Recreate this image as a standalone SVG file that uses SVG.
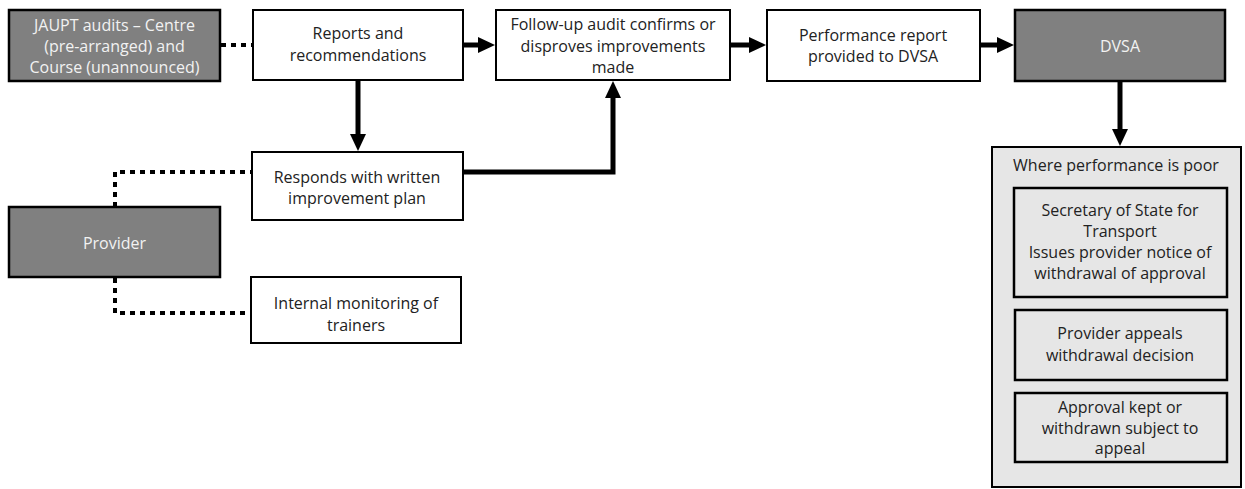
<svg xmlns="http://www.w3.org/2000/svg" width="1245" height="489" viewBox="0 0 1245 489">
<style>
.box{fill:#fff;stroke:#000;stroke-width:2}
.dark{fill:#808080;stroke:#000;stroke-width:2.5}
.grey{fill:#e6e6e6;stroke:#000;stroke-width:2}
.inner{fill:#e6e6e6;stroke:#000;stroke-width:2.5}
text{font-family:"Open Sans","Noto Sans",sans-serif;font-size:16px;text-anchor:middle;fill:#222}
.wt{fill:#f2f2f2}
.solid{fill:none;stroke:#000;stroke-width:5}
.dot{fill:none;stroke:#000;stroke-width:4;stroke-dasharray:5 5}
</style>
<defs>
<marker id="ah" markerUnits="userSpaceOnUse" markerWidth="18" markerHeight="18" refX="0" refY="9" orient="auto">
<path d="M0,1 L17,9 L0,17 Z" fill="#000"/>
</marker>
</defs>
<g id="connectors">
<path class="dot" d="M221,45 H252"/>
<path class="solid" d="M463,45 H478" marker-end="url(#ah)"/>
<path class="solid" d="M730,45 H749" marker-end="url(#ah)"/>
<path class="solid" d="M980,45 H997" marker-end="url(#ah)"/>
<path class="solid" d="M358,81 V134" marker-end="url(#ah)"/>
<path class="solid" d="M463,172 H613 V98" marker-end="url(#ah)"/>
<path class="solid" d="M1120,82 V129" marker-end="url(#ah)"/>
<path class="dot" d="M115,207 V172 H252"/>
<path class="dot" d="M115,278 V313 H251"/>
</g>
<g id="jaupt">
<rect class="dark" x="9" y="10" width="211" height="71"/>
<text class="wt" x="114.5" y="31">JAUPT audits – Centre</text>
<text class="wt" x="114.5" y="52">(pre-arranged) and</text>
<text class="wt" x="114.5" y="73">Course (unannounced)</text>
</g>
<g id="reports">
<rect class="box" x="253" y="10" width="210" height="70"/>
<text x="358" y="39">Reports and</text>
<text x="358" y="61">recommendations</text>
</g>
<g id="followup">
<rect class="box" x="496" y="10" width="234" height="70"/>
<text x="613" y="30">Follow-up audit confirms or</text>
<text x="613" y="52">disproves improvements</text>
<text x="613" y="73">made</text>
</g>
<g id="performance">
<rect class="box" x="767" y="10" width="213" height="71"/>
<text x="873" y="41">Performance report</text>
<text x="873" y="62">provided to DVSA</text>
</g>
<g id="dvsa">
<rect class="dark" x="1015" y="10" width="210" height="71"/>
<text class="wt" x="1120" y="52">DVSA</text>
</g>
<g id="responds">
<rect class="box" x="252" y="152" width="211" height="68"/>
<text x="357" y="183">Responds with written</text>
<text x="357" y="204">improvement plan</text>
</g>
<g id="provider">
<rect class="dark" x="9" y="207" width="211" height="70"/>
<text class="wt" x="114.5" y="249">Provider</text>
</g>
<g id="internal">
<rect class="box" x="251" y="277" width="210" height="66"/>
<text x="356" y="309">Internal monitoring of</text>
<text x="356" y="331">trainers</text>
</g>
<g id="poor">
<rect class="grey" x="992" y="147" width="249" height="340"/>
<text x="1116" y="171">Where performance is poor</text>
</g>
<g id="secretary">
<rect class="inner" x="1014" y="188" width="213" height="109"/>
<text x="1120" y="216">Secretary of State for</text>
<text x="1120" y="237">Transport</text>
<text x="1120" y="258">Issues provider notice of</text>
<text x="1120" y="279">withdrawal of approval</text>
</g>
<g id="appeals">
<rect class="inner" x="1015" y="310" width="212" height="70"/>
<text x="1120" y="339">Provider appeals</text>
<text x="1120" y="361">withdrawal decision</text>
</g>
<g id="kept">
<rect class="inner" x="1015" y="393" width="212" height="69"/>
<text x="1120" y="413">Approval kept or</text>
<text x="1120" y="434">withdrawn subject to</text>
<text x="1120" y="454">appeal</text>
</g>
</svg>
